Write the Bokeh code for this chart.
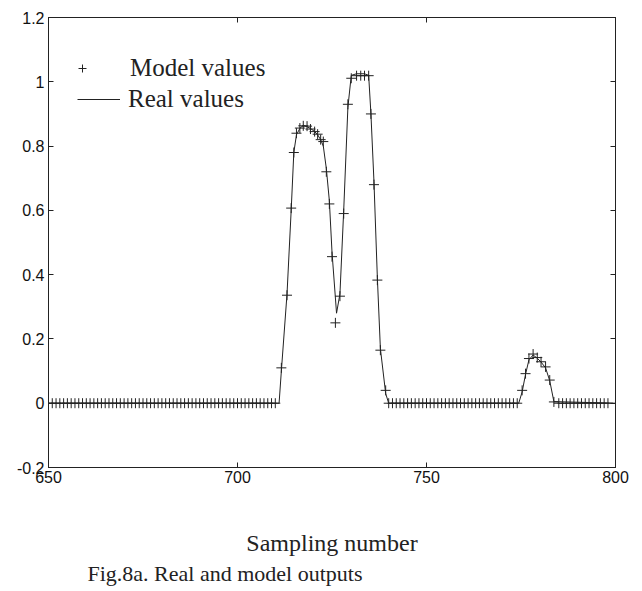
from bokeh.plotting import figure
from bokeh.models import (Range1d, FixedTicker, LinearAxis, Legend, LegendItem,
                          Title, ColumnDataSource)
from bokeh.embed import file_html
from bokeh.resources import INLINE

# ---- data ----
flat1_x = list(range(650, 711))
peak_x = [711.6, 713.1, 714.2, 714.9, 715.6, 716.5, 717.4, 718.4, 719.3, 720.4,
          721.2, 722.0, 722.7, 723.5, 724.3, 725.0, 725.9, 727.1, 728.1, 729.2,
          730.1, 731.5, 732.6, 733.6, 734.7, 735.3, 736.1, 737.0, 737.8, 739.2]
peak_y = [0.11, 0.336, 0.607, 0.78, 0.84, 0.856, 0.863, 0.862, 0.853, 0.845,
          0.837, 0.82, 0.814, 0.72, 0.62, 0.456, 0.25, 0.333, 0.59, 0.93,
          1.011, 1.019, 1.019, 1.019, 1.019, 0.90, 0.68, 0.383, 0.165, 0.04]
flat2_x = list(range(740, 775))
small_x = [775.3, 776.2, 777.1, 778.2, 779.3, 780.3, 781.5, 782.6, 783.7]
small_y = [0.04, 0.092, 0.139, 0.153, 0.142, 0.129, 0.113, 0.072, 0.004]
flat3_x = list(range(785, 799))

model_x = flat1_x + peak_x + flat2_x + small_x + flat3_x
model_y = ([0.0] * len(flat1_x) + peak_y + [0.0] * len(flat2_x) + small_y
           + [0.0] * len(flat3_x))

real_x = [650, 711.0, 711.6, 713.1, 714.2, 714.9, 715.6, 716.5, 717.4, 718.4,
          719.3, 720.4, 721.2, 722.0, 722.7, 723.5, 724.3, 725.0, 726.2, 727.1,
          728.1, 729.2, 730.1, 731.5, 732.6, 733.6, 734.7, 735.3, 736.1, 737.0,
          737.8, 739.2, 740.0, 774.4, 775.3, 776.2, 777.1, 778.2, 779.3, 780.3,
          781.5, 782.6, 783.7, 800]
real_y = [0, 0, 0.10, 0.34, 0.60, 0.78, 0.835, 0.855, 0.865, 0.86,
          0.855, 0.845, 0.835, 0.82, 0.80, 0.73, 0.63, 0.47, 0.28, 0.34,
          0.60, 0.92, 1.02, 1.025, 1.025, 1.025, 1.02, 0.90, 0.69, 0.39,
          0.17, 0.03, 0, 0, 0.035, 0.09, 0.135, 0.15, 0.14, 0.128,
          0.11, 0.07, 0.005, 0]

x_ticks = [650, 700, 750, 800]
x_tick_labels = ["650", "700", "750", "800"]
y_ticks = [-0.2, 0, 0.2, 0.4, 0.6, 0.8, 1.0, 1.2]
y_tick_labels = ["-0.2", "0", "0.2", "0.4", "0.6", "0.8", "1", "1.2"]

x_label = "Sampling number"
caption = "Fig.8a. Real and model outputs"
series_names = ["Model values", "Real values"]

# ---- figure ----
p = figure(width=642, height=591, x_range=Range1d(650, 800),
           y_range=Range1d(-0.2, 1.2), output_backend="svg",
           toolbar_location=None, min_border_left=48, min_border_right=27,
           min_border_top=17, min_border_bottom=124)
p.xgrid.visible = False
p.ygrid.visible = False
p.outline_line_color = "#222222"
p.outline_line_width = 1
p.background_fill_color = "white"
p.border_fill_color = "white"

def style_axis(ax, ticks, labels, show_labels=True):
    ax.ticker = FixedTicker(ticks=ticks)
    if show_labels:
        ax.major_label_overrides = {t: l for t, l in zip(ticks, labels)}
    else:
        ax.major_label_overrides = {t: "" for t in ticks}
    ax.minor_tick_line_color = None
    ax.major_tick_in = 5
    ax.major_tick_out = 0
    ax.major_tick_line_color = "#222222"
    ax.axis_line_color = "#222222"
    ax.major_label_text_font = "Liberation Sans"
    ax.major_label_text_font_size = "16px"
    ax.major_label_text_color = "#111111"
    ax.major_label_standoff = 4 if show_labels else 0

style_axis(p.xaxis[0], x_ticks, x_tick_labels)
style_axis(p.yaxis[0], y_ticks, y_tick_labels)
xa = p.xaxis[0]
xa.major_label_standoff = 3
xa.axis_label = x_label
xa.axis_label_standoff = 44
xa.axis_label_text_font = "Liberation Serif"
xa.axis_label_text_font_size = "24px"
xa.axis_label_text_font_style = "normal"
xa.axis_label_text_color = "#222222"

top_ax = LinearAxis()
style_axis(top_ax, x_ticks, x_tick_labels, show_labels=False)
p.add_layout(top_ax, "above")
right_ax = LinearAxis()
style_axis(right_ax, y_ticks, y_tick_labels, show_labels=False)
p.add_layout(right_ax, "right")

src_real = ColumnDataSource(dict(x=real_x, y=real_y))
src_model = ColumnDataSource(dict(x=model_x, y=model_y))
ln = p.line("x", "y", source=src_real, line_color="#222222", line_width=1)
sc = p.scatter("x", "y", source=src_model, marker="cross", size=10,
               line_color="#222222", line_width=1)

leg1 = Legend(items=[LegendItem(label=series_names[0], renderers=[sc])],
              location=(24, 385), glyph_width=20, glyph_height=24,
              label_height=24, label_standoff=38, padding=0, margin=0,
              border_line_color=None, background_fill_alpha=0,
              label_text_font="Liberation Serif", label_text_font_size="25px",
              label_text_color="#222222")
leg2 = Legend(items=[LegendItem(label=series_names[1], renderers=[ln])],
              location=(29, 354), glyph_width=43, glyph_height=24,
              label_height=24, label_standoff=8, padding=0, margin=0,
              border_line_color=None, background_fill_alpha=0,
              label_text_font="Liberation Serif", label_text_font_size="25px",
              label_text_color="#222222")
p.add_layout(leg1)
p.add_layout(leg2)

t2 = Title(text=caption, align="left", offset=39, standoff=0,
           text_font="Liberation Serif", text_font_size="22px",
           text_font_style="normal", text_color="#222222")
p.add_layout(t2, "below")

open("out.html", "w").write(file_html(p, INLINE))
